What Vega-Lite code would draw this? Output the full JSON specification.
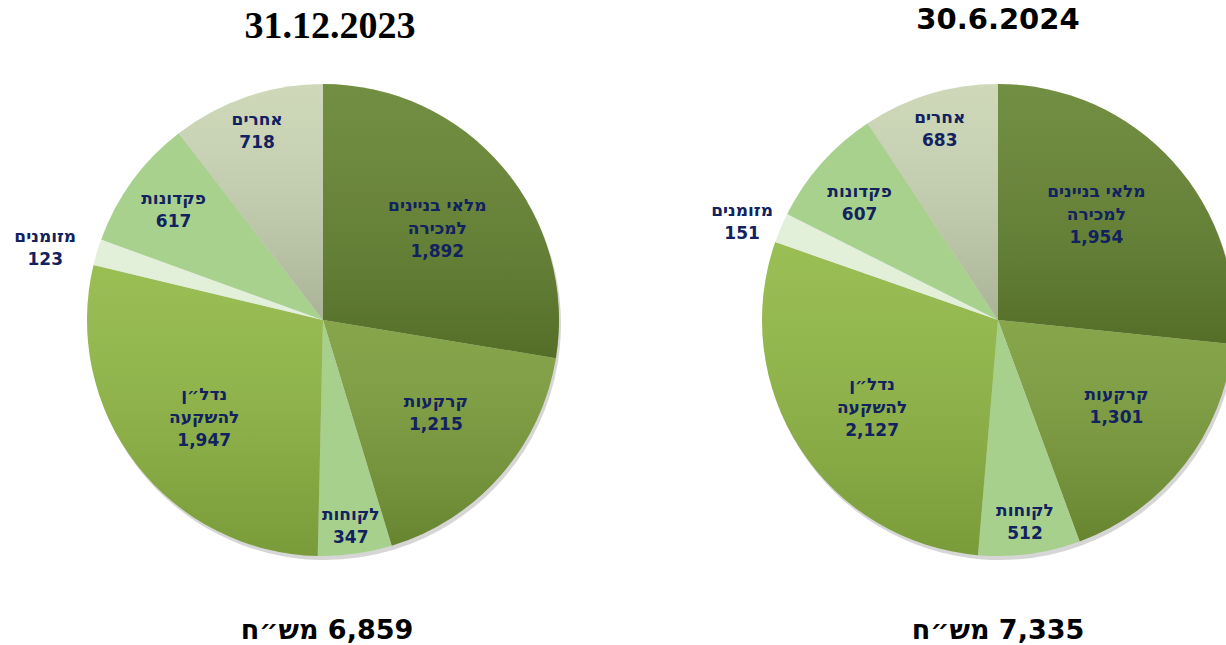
{
  "$schema": "https://vega.github.io/schema/vega-lite/v6.json",
  "padding": {"top": 5, "left": 0, "right": 0, "bottom": 0},
  "spacing": 0,
  "background": "white",
  "config": {"view": {"stroke": null}, "concat": {"spacing": 0}, "text": {"font": "DejaVu Sans", "fontSize": 17, "fontWeight": "bold", "lineHeight": 23, "lineBreak": "\n", "color": "#12215f", "align": "center", "baseline": "middle"}},
  "datasets": {
    "y2023": [
      {"cat": "מלאי בניינים למכירה", "label": "מלאי בניינים\nלמכירה\n1,892", "value": 1892, "o": 1},
      {"cat": "קרקעות", "label": "קרקעות\n1,215", "value": 1215, "o": 2},
      {"cat": "לקוחות", "label": "לקוחות\n347", "value": 347, "o": 3},
      {"cat": "נדל״ן להשקעה", "label": "נדל״ן\nלהשקעה\n1,947", "value": 1947, "o": 4},
      {"cat": "מזומנים", "label": "מזומנים\n123", "value": 123, "o": 5},
      {"cat": "פקדונות", "label": "פקדונות\n617", "value": 617, "o": 6},
      {"cat": "אחרים", "label": "אחרים\n718", "value": 718, "o": 7}
    ],
    "y2024": [
      {"cat": "מלאי בניינים למכירה", "label": "מלאי בניינים\nלמכירה\n1,954", "value": 1954, "o": 1},
      {"cat": "קרקעות", "label": "קרקעות\n1,301", "value": 1301, "o": 2},
      {"cat": "לקוחות", "label": "לקוחות\n512", "value": 512, "o": 3},
      {"cat": "נדל״ן להשקעה", "label": "נדל״ן\nלהשקעה\n2,127", "value": 2127, "o": 4},
      {"cat": "מזומנים", "label": "מזומנים\n151", "value": 151, "o": 5},
      {"cat": "פקדונות", "label": "פקדונות\n607", "value": 607, "o": 6},
      {"cat": "אחרים", "label": "אחרים\n683", "value": 683, "o": 7}
    ]
  },
  "hconcat": [
    {
      "title": {"text": "31.12.2023", "font": "Liberation Serif", "fontSize": 38, "fontWeight": "bold", "color": "black", "offset": -26, "anchor": "middle", "dx": 7},
      "vconcat": [
        {
          "width": 646,
          "height": 600,
          "data": {"name": "y2023"},
          "title": {"text": "‏6,859 מש״ח", "orient": "bottom", "font": "DejaVu Sans", "fontSize": 27, "fontWeight": "bold", "color": "black", "offset": -2, "anchor": "middle", "frame": "group", "dx": 4},
          "encoding": {
            "theta": {"field": "value", "type": "quantitative", "stack": true},
            "order": {"field": "o", "type": "quantitative"},
            "detail": {"field": "cat", "type": "nominal"}
          },
          "layer": [
            {"mark": {"type": "arc", "outerRadius": 236, "color": "#000000", "opacity": 0.16, "xOffset": 2, "yOffset": 4}},
            {
              "mark": {"type": "arc", "outerRadius": 236},
              "encoding": {
                "color": {"field": "cat", "type": "nominal", "legend": null,
                  "scale": {"domain": ["מלאי בניינים למכירה", "קרקעות", "לקוחות", "נדל״ן להשקעה", "מזומנים", "פקדונות", "אחרים"],
                            "range": ["#64832f", "#7b9d39", "#a8d08d", "#90b843", "#e2efd9", "#a9d18e", "#cad5b3"]}}
              }
            },
            {
              "mark": {"type": "arc", "outerRadius": 236, "color": {"gradient": "linear", "x1": 0, "y1": 0, "x2": 0, "y2": 1, "stops": [{"offset": 0, "color": "rgba(255,255,255,0.09)"}, {"offset": 1, "color": "rgba(0,0,0,0.16)"}]}},
              "encoding": {"fillOpacity": {"condition": {"test": "datum.o == 3 || datum.o == 5 || datum.o == 6", "value": 0}, "value": 1}}
            },
            {
              "mark": {"type": "text", "radius": 150, "dy": -17},
              "encoding": {"text": {"condition": {"test": "datum.o == 1 || datum.o == 2 || datum.o == 4", "field": "label", "type": "nominal"}, "value": ""}}
            },
            {
              "mark": {"type": "text", "radius": 204, "dy": -7},
              "encoding": {"text": {"condition": {"test": "datum.o == 3 || datum.o == 7", "field": "label", "type": "nominal"}, "value": ""}}
            },
            {
              "mark": {"type": "text", "radius": 185, "dy": -12},
              "encoding": {"text": {"condition": {"test": "datum.o == 6", "field": "label", "type": "nominal"}, "value": ""}}
            },
            {
              "mark": {"type": "text", "radius": 290},
              "encoding": {"text": {"condition": {"test": "datum.o == 5", "field": "label", "type": "nominal"}, "value": ""}}
            }
          ]
        }
      ]
    },
    {
      "title": {"text": "30.6.2024", "font": "DejaVu Sans", "fontSize": 29, "fontWeight": "bold", "color": "black", "offset": -14.5, "anchor": "middle"},
      "vconcat": [
        {
          "width": 704,
          "height": 600,
          "data": {"name": "y2024"},
          "title": {"text": "‏7,335  מש״ח", "orient": "bottom", "font": "DejaVu Sans", "fontSize": 27, "fontWeight": "bold", "color": "black", "offset": -2, "anchor": "middle", "frame": "group"},
          "encoding": {
            "theta": {"field": "value", "type": "quantitative", "stack": true},
            "order": {"field": "o", "type": "quantitative"},
            "detail": {"field": "cat", "type": "nominal"}
          },
          "layer": [
            {"mark": {"type": "arc", "outerRadius": 236, "color": "#000000", "opacity": 0.16, "xOffset": 2, "yOffset": 4}},
            {
              "mark": {"type": "arc", "outerRadius": 236},
              "encoding": {
                "color": {"field": "cat", "type": "nominal", "legend": null,
                  "scale": {"domain": ["מלאי בניינים למכירה", "קרקעות", "לקוחות", "נדל״ן להשקעה", "מזומנים", "פקדונות", "אחרים"],
                            "range": ["#64832f", "#7b9d39", "#a8d08d", "#90b843", "#e2efd9", "#a9d18e", "#cad5b3"]}}
              }
            },
            {
              "mark": {"type": "arc", "outerRadius": 236, "color": {"gradient": "linear", "x1": 0, "y1": 0, "x2": 0, "y2": 1, "stops": [{"offset": 0, "color": "rgba(255,255,255,0.09)"}, {"offset": 1, "color": "rgba(0,0,0,0.16)"}]}},
              "encoding": {"fillOpacity": {"condition": {"test": "datum.o == 3 || datum.o == 5 || datum.o == 6", "value": 0}, "value": 1}}
            },
            {
              "mark": {"type": "text", "radius": 150, "dx": -13, "dy": -28},
              "encoding": {"text": {"condition": {"test": "datum.o == 1", "field": "label", "type": "nominal"}, "value": ""}}
            },
            {
              "mark": {"type": "text", "radius": 150, "dy": -17},
              "encoding": {"text": {"condition": {"test": "datum.o == 2 || datum.o == 4", "field": "label", "type": "nominal"}, "value": ""}}
            },
            {
              "mark": {"type": "text", "radius": 202, "dy": -9},
              "encoding": {"text": {"condition": {"test": "datum.o == 3 || datum.o == 7", "field": "label", "type": "nominal"}, "value": ""}}
            },
            {
              "mark": {"type": "text", "radius": 185, "dy": -5},
              "encoding": {"text": {"condition": {"test": "datum.o == 6", "field": "label", "type": "nominal"}, "value": ""}}
            },
            {
              "mark": {"type": "text", "radius": 278},
              "encoding": {"text": {"condition": {"test": "datum.o == 5", "field": "label", "type": "nominal"}, "value": ""}}
            }
          ]
        }
      ]
    }
  ]
}
